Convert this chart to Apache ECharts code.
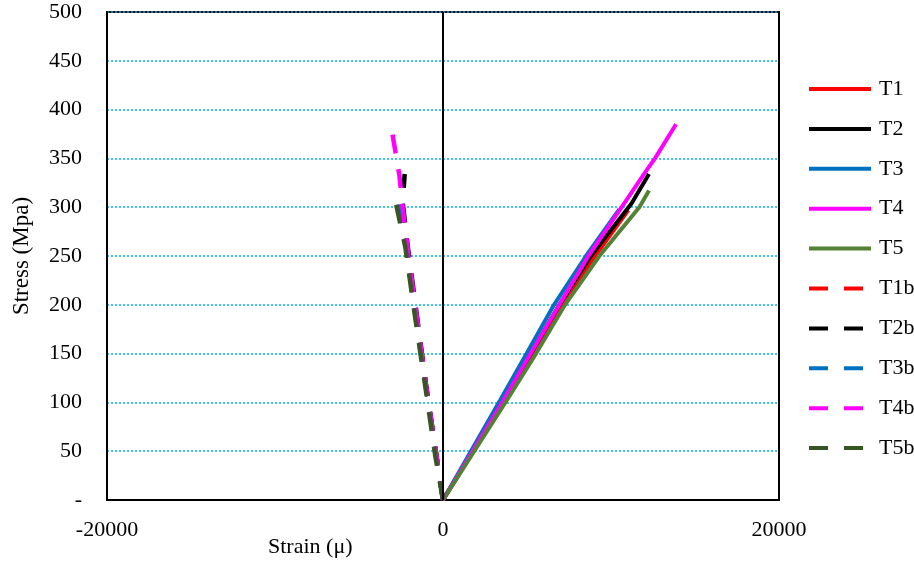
<!DOCTYPE html>
<html>
<head>
<meta charset="utf-8">
<script src="https://cdn.jsdelivr.net/npm/echarts@6/dist/echarts.min.js"></script>
<style>html,body{margin:0;padding:0;background:#fff}#c{width:914px;height:561px}</style>
</head>
<body>
<div id="c"></div>
<script>
// Strain (micro-strain), Stress (MPa) pairs
var T1  = [[0,0],[3700,102],[5400,150],[7100,200],[9048,250],[11032,297]];
var T2  = [[0,0],[3591,102],[6925,200],[8800,250],[11230,304],[12262,334]];
var T3  = [[0,0],[3393,102],[4980,150],[6607,200],[8512,250],[10500,298]];
var T4  = [[0,0],[3591,102],[5218,150],[6925,200],[8651,250],[10635,300],[12123,338],[12619,350],[13869,385]];
var T5  = [[0,0],[3790,102],[5536,150],[7262,200],[9306,250],[11687,300],[12262,317]];
var T1b = [[0,0],[-1000,116],[-2150,259],[-2500,298]];
var T2b = [[0,0],[-1000,117],[-2100,260],[-2400,305],[-2280,334]];
var T3b = [[0,0],[-1020,116],[-2200,259],[-2560,300],[-2600,306]];
var T4b = [[0,0],[-1000,116],[-2050,250],[-2400,300],[-2600,333],[-3018,376]];
var T5b = [[0,0],[-458,45],[-1052,116],[-1667,188],[-2242,259],[-2817,305]];

var seriesNames = ['T1','T2','T3','T4','T5','T1b','T2b','T3b','T4b','T5b'];
var seriesData  = [T1,T2,T3,T4,T5,T1b,T2b,T3b,T4b,T5b];
var seriesColors = ['#FF0000','#000000','#0070C0','#FF00FF','#548235','#FF0000','#000000','#0070C0','#FF00FF','#375623'];
var xTicks = [-20000, 0, 20000];
var yTicks = [0,50,100,150,200,250,300,350,400,450,500];

var FONT = '"Liberation Serif","Times New Roman",serif';

var series = seriesNames.map(function(n, i){
  var dashed = n.indexOf('b') > 0;
  var s = {
    name: n, type: 'line', data: seriesData[i], symbol: 'none', showSymbol: false,
    smooth: false, animation: false, silent: true,
    lineStyle: {color: seriesColors[i], width: dashed ? 4.5 : 4, type: dashed ? [19,16] : 'solid', cap: 'butt'},
    itemStyle: {color: seriesColors[i]}
  };
  if (i === 0) {
    s.markLine = {
      silent: true, symbol: ['none','none'], label: {show: false},
      lineStyle: {color: '#000', width: 2, type: 'solid'},
      data: [{xAxis: 0}], animation: false
    };
  }
  return s;
});

var chart = echarts.init(document.getElementById('c'), null, {renderer: 'canvas'});
chart.setOption({
  backgroundColor: '#fff',
  animation: false,
  grid: {left: 107, right: 135, top: 12, bottom: 61, show: true, borderColor: '#000', borderWidth: 2, backgroundColor: 'transparent'},
  xAxis: {
    type: 'value', min: xTicks[0], max: xTicks[xTicks.length-1], interval: xTicks[1]-xTicks[0],
    axisLine: {show: true, onZero: false, lineStyle: {color: '#000', width: 2}},
    axisTick: {show: false}, splitLine: {show: false},
    axisLabel: {color: '#000', fontFamily: FONT, fontSize: 22, margin: 19,
      formatter: function(v){ return String(v); }}
  },
  yAxis: {
    type: 'value', min: yTicks[0], max: yTicks[yTicks.length-1], interval: yTicks[1]-yTicks[0],
    name: 'Stress (Mpa)', nameLocation: 'middle', nameGap: 74,
    nameTextStyle: {color: '#000', fontFamily: FONT, fontSize: 23},
    axisLine: {show: true, onZero: false, lineStyle: {color: '#000', width: 2}},
    axisTick: {show: false},
    splitLine: {show: true, lineStyle: {color: '#00B0F0', width: 1.5, type: [2,2]}},
    axisLabel: {color: '#000', fontFamily: FONT, fontSize: 22, margin: 25,
      formatter: function(v){ return v === 0 ? '-' : String(v); }}
  },
  legend: {
    orient: 'vertical', left: 807, top: 78, padding: 0,
    itemWidth: 62, itemHeight: 20, itemGap: 17.9,
    itemStyle: {opacity: 0},
    lineStyle: {width: 4},
    textStyle: {color: '#000', fontFamily: FONT, fontSize: 22, lineHeight: 20, padding: [0,0,0,3]},
    data: seriesNames, selectedMode: false
  },
  graphic: [{
    type: 'text', left: 268, top: 536,
    style: {text: 'Strain (\u03bc)', fill: '#000', font: '22px ' + FONT}
  }],
  series: series
});
</script>
</body>
</html>
